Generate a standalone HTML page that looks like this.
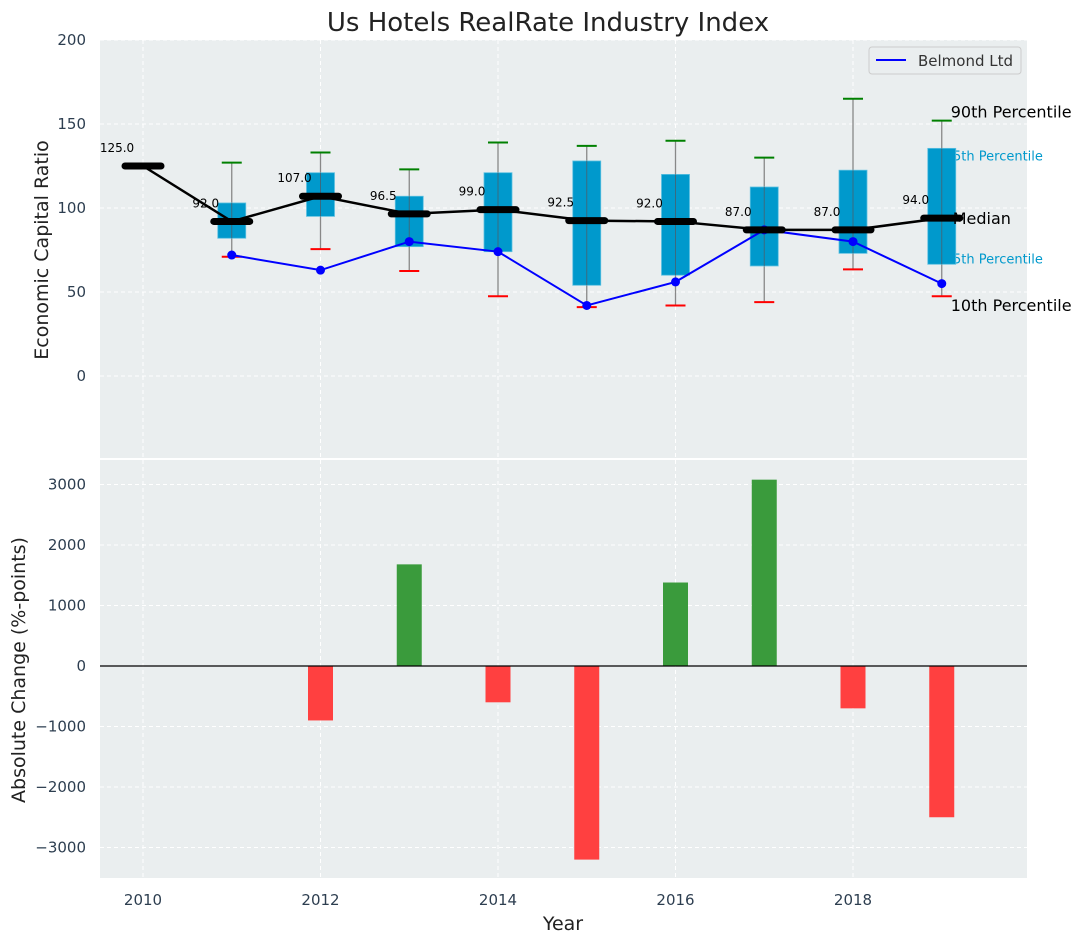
<!DOCTYPE html>
<html><head><meta charset="utf-8"><style>
body{margin:0;background:#fff;}
svg{display:block;font-family:"DejaVu Sans","Liberation Sans",sans-serif;}
</style></head><body>
<svg id="c" width="1085" height="942" xmlns="http://www.w3.org/2000/svg"></svg>
<script>
const years=[2010,2011,2012,2013,2014,2015,2016,2017,2018,2019];
const medians=[125,92,107,96.5,99,92.5,92,87,87,94];
const boxYears=[2011,2012,2013,2014,2015,2016,2017,2018,2019];
const p25=[82,95,77,74,54,60,65.5,73,66.5];
const p75=[103,121,107,121,128,120,112.5,122.5,135.5];
const p10=[71,75.5,62.5,47.5,41,42,44,63.5,47.5];
const p90=[127,133,123,139,137,140,130,165,152];
const belmond=[72,63,80,74,42,56,87,80,55];
const changeYears=[2012,2013,2014,2015,2016,2017,2018,2019];
const changes=[-900,1680,-600,-3200,1380,3080,-700,-2500];
const topTicks=[0,50,100,150,200];
const botTicks=[-3000,-2000,-1000,0,1000,2000,3000];
const xTicks=[2010,2012,2014,2016,2018];

const NS="http://www.w3.org/2000/svg";
const svg=document.getElementById('c');
function el(tag,attrs,parent){const e=document.createElementNS(NS,tag);for(const k in attrs)e.setAttribute(k,attrs[k]);(parent||svg).appendChild(e);return e;}
function txt(s,attrs,parent){const e=el('text',attrs,parent);e.textContent=s;return e;}
const X=v=>143+(v-2010)*88.75;
const Y1=v=>376-v*1.68;
const Y2=v=>666-v*0.0605;

let e=el('rect',{x:100,y:40,width:927,height:418,fill:'#eaeeef'});

e=el('rect',{x:100,y:460,width:927,height:418,fill:'#eaeeef'});


const grid=el('g',{stroke:'#fff','stroke-dasharray':'4,3','stroke-width':1});

xTicks.forEach(t=>{el('line',{x1:X(t),x2:X(t),y1:40,y2:458},grid);el('line',{x1:X(t),x2:X(t),y1:460,y2:878},grid);});
topTicks.forEach(t=>el('line',{x1:100,x2:1027,y1:Y1(t),y2:Y1(t)},grid));
botTicks.forEach(t=>el('line',{x1:100,x2:1027,y1:Y2(t),y2:Y2(t)},grid));

topTicks.forEach(t=>{const a=txt(String(t),{x:86,y:Y1(t)+5,'text-anchor':'end','font-size':15,fill:'#2d3e50'});});
botTicks.forEach(t=>{const a=txt(String(t).replace('-','\u2212'),{x:86,y:Y2(t)+5,'text-anchor':'end','font-size':15,fill:'#2d3e50'});});
xTicks.forEach(t=>{const a=txt(String(t),{x:X(t),y:905,'text-anchor':'middle','font-size':15,fill:'#2d3e50'});});

e=txt('Us Hotels RealRate Industry Index',{x:548,y:31,'text-anchor':'middle','font-size':26,fill:'#222'});
e=txt('Economic Capital Ratio',{x:48,y:250,'text-anchor':'middle','font-size':19,fill:'#222',transform:'rotate(-90 48 250)'});
e=txt('Absolute Change (%-points)',{x:25,y:670,'text-anchor':'middle','font-size':19,fill:'#222',transform:'rotate(-90 25 670)'});
e=txt('Year',{x:563,y:930,'text-anchor':'middle','font-size':19,fill:'#222'});

const last=boxYears.length-1;
const lx=X(2019)+9;
e=txt('90th Percentile',{x:lx,y:Y1(p90[last])-3,'font-size':16,fill:'#000'});
e=txt('75th Percentile',{x:lx-6,y:Y1(p75[last])+12,'font-size':13,fill:'#0099cc'});
e=txt('25th Percentile',{x:lx-6,y:Y1(p25[last])-1,'font-size':13,fill:'#0099cc'});
e=txt('10th Percentile',{x:lx,y:Y1(p10[last])+15,'font-size':16,fill:'#000'});

boxYears.forEach((yr,i)=>{
  const g=el('g',{});
  const x=X(yr);
  el('line',{x1:x,x2:x,y1:Y1(p90[i]),y2:Y1(p10[i]),stroke:'#888','stroke-width':1.3},g);
  el('rect',{x:x-14,y:Y1(p75[i]),width:28,height:Y1(p25[i])-Y1(p75[i]),fill:'#0099cc',stroke:'#5cc0e0','stroke-width':0.8},g);
  el('line',{x1:x,x2:x,y1:Y1(p75[i]),y2:Y1(p25[i]),stroke:'#3a6a80','stroke-width':1},g);
  el('line',{x1:x-10,x2:x+10,y1:Y1(p90[i]),y2:Y1(p90[i]),stroke:'green','stroke-width':2},g);
  el('line',{x1:x-10,x2:x+10,y1:Y1(p10[i]),y2:Y1(p10[i]),stroke:'red','stroke-width':2},g);
});
e=txt('Median',{x:lx+2,y:Y1(medians[9])+6,'font-size':16,fill:'#000'});

e=el('polyline',{points:boxYears.map((y,i)=>X(y)+','+Y1(belmond[i])).join(' '),fill:'none',stroke:'blue','stroke-width':2});

boxYears.forEach((y,i)=>{const c=el('circle',{cx:X(y),cy:Y1(belmond[i]),r:4.5,fill:'blue'});});

e=el('polyline',{points:years.map((y,i)=>X(y)+','+Y1(medians[i])).join(' '),fill:'none',stroke:'#000','stroke-width':2.5});

years.forEach((y,i)=>{
  const m=el('line',{x1:X(y)-18,x2:X(y)+18,y1:Y1(medians[i]),y2:Y1(medians[i]),stroke:'#000','stroke-width':7,'stroke-linecap':'round'});
  
  const t=txt(medians[i].toFixed(1),{x:X(y)-26,y:Y1(medians[i])-14,'text-anchor':'middle','font-size':12,fill:'#000'});
  
});

const lg=el('g',{});
el('rect',{x:869,y:47,width:152,height:27,rx:3,fill:'#eaeeef',stroke:'#ccc'},lg);
el('line',{x1:876,x2:906,y1:60,y2:60,stroke:'blue','stroke-width':2},lg);
e=txt('Belmond Ltd',{x:918,y:66,'font-size':15,fill:'#333'},lg);

changeYears.forEach((y,i)=>{
  const v=changes[i];
  const r=el('rect',{x:X(y)-12.5,y:Math.min(Y2(0),Y2(v)),width:25,height:Math.abs(Y2(v)-Y2(0)),fill:v>=0?'#3a9b3c':'#ff4040'});
  
});
e=el('line',{x1:100,x2:1027,y1:Y2(0),y2:Y2(0),stroke:'#000','stroke-width':1.2});

</script>
</body></html>
